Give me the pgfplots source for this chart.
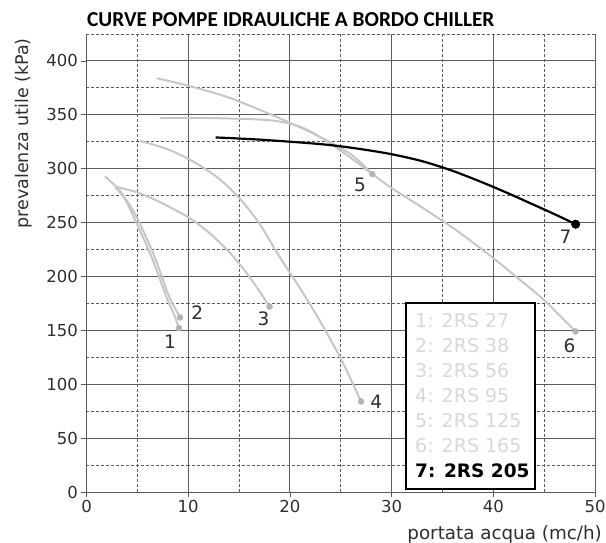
\documentclass[border=0pt]{standalone}
\usepackage{fontspec}
\setmainfont{DejaVu Sans}
\newfontfamily\titlefont{Carlito}
\usepackage{pgfplots}
\pgfplotsset{compat=1.18}
\usetikzlibrary{calc}
\definecolor{curvegray}{HTML}{C6C6C6}
\definecolor{dotgray}{HTML}{B4B4B4}
\definecolor{gridcol}{HTML}{5C5C5C}
\definecolor{leggray}{HTML}{D8D8D8}
\definecolor{txt}{HTML}{2E2E2E}
\begin{document}
\begin{tikzpicture}
\begin{axis}[
  scale only axis, width=508.5bp, height=458bp,
  xmin=0, xmax=50, ymin=0, ymax=425,
  xtick={0,10,...,50}, ytick={0,50,...,400},
  minor xtick={5,15,...,45}, minor ytick={25,75,...,425},
  grid=both,
  major grid style={gridcol, line width=0.9bp},
  minor grid style={gridcol, line width=0.9bp, dash pattern=on 3bp off 2bp},
  axis x line*=bottom, axis y line*=left,
  axis line style={gridcol, line width=1bp, -},
  tick align=outside, major tick length=5bp, minor tick length=0pt,
  tick style={gridcol, line width=0.8bp},
  ticklabel style={font=\fontsize{16.5bp}{18bp}\selectfont, text=txt},
  /pgf/number format/assume math mode=true,
  clip mode=individual,
]
% curves
\addplot[curvegray, line width=2bp, smooth] coordinates {(1.8,293) (3.4,278) (4.8,252) (6.4,218) (7.9,180) (8.6,165) (9.1,152)};
\addplot[curvegray, line width=2bp, smooth] coordinates {(2.8,283) (4,270) (5.2,250) (6.7,218) (8.1,182) (9.2,162)};
\addplot[curvegray, line width=2bp, smooth] coordinates {(3,283) (5,278) (7,270) (10,255) (12,241) (14,223) (16,200) (18,172)};
\addplot[curvegray, line width=2bp, smooth] coordinates {(5.2,326) (8,318) (10.6,306) (13,291) (15.1,272) (17,249) (19,218) (21,189) (23,158) (25.1,122) (27,84)};
\addplot[curvegray, line width=2bp, smooth] coordinates {(6.9,384) (10,377) (14,366) (18.2,350) (22,334) (25.9,314) (28.1,295)};
\addplot[curvegray, line width=2bp, smooth] coordinates {(7.2,347) (12,347) (18,345) (21,339) (23.2,328) (26,310) (29.7,284) (33,264) (36.5,242) (40,217) (42.6,197) (45,178) (48.1,149)};
\addplot[black, line width=2.2bp, smooth] coordinates {(12.7,329) (17,327) (22.8,323) (26,319.5) (29.7,314) (33,307) (36,298) (39,287) (41.5,277) (44.1,266) (46.2,257) (48.1,248.5)};
% end points
\addplot[only marks, mark=*, mark size=3bp, dotgray, mark options={draw=dotgray, fill=dotgray}] coordinates {(9.1,152) (9.2,162) (18,172) (27,84) (28.1,295) (48.1,149)};
\addplot[only marks, mark=*, mark size=4.3bp, black] coordinates {(48.1,248.5)};
% curve numbers
\node[txt, font=\fontsize{18.5bp}{20bp}\selectfont] at (axis cs:8.2,139) {1};
\node[txt, font=\fontsize{18.5bp}{20bp}\selectfont] at (axis cs:10.9,166) {2};
\node[txt, font=\fontsize{18.5bp}{20bp}\selectfont] at (axis cs:17.4,161) {3};
\node[txt, font=\fontsize{18.5bp}{20bp}\selectfont] at (axis cs:28.5,83.8) {4};
\node[txt, font=\fontsize{18.5bp}{20bp}\selectfont] at (axis cs:26.9,285) {5};
\node[txt, font=\fontsize{18.5bp}{20bp}\selectfont] at (axis cs:47.5,136) {6};
\node[txt, font=\fontsize{18.5bp}{20bp}\selectfont] at (axis cs:47.1,237) {7};
% legend box
\draw[black, line width=1.7bp, fill=white] (axis cs:31.4,2.8) rectangle (axis cs:44.1,175.4);
\node[leggray, anchor=base west, inner sep=0pt, font=\fontsize{19bp}{20bp}\selectfont] at (axis cs:32.3,153.1) {1: 2RS 27};
\node[leggray, anchor=base west, inner sep=0pt, font=\fontsize{19bp}{20bp}\selectfont] at (axis cs:32.3,129.7) {2: 2RS 38};
\node[leggray, anchor=base west, inner sep=0pt, font=\fontsize{19bp}{20bp}\selectfont] at (axis cs:32.3,106.3) {3: 2RS 56};
\node[leggray, anchor=base west, inner sep=0pt, font=\fontsize{19bp}{20bp}\selectfont] at (axis cs:32.3,83.0) {4: 2RS 95};
\node[leggray, anchor=base west, inner sep=0pt, font=\fontsize{19bp}{20bp}\selectfont] at (axis cs:32.3,59.6) {5: 2RS 125};
\node[leggray, anchor=base west, inner sep=0pt, font=\fontsize{19bp}{20bp}\selectfont] at (axis cs:32.3,36.2) {6: 2RS 165};
\node[black, anchor=base west, inner sep=0pt, font=\bfseries\fontsize{18.5bp}{20bp}\selectfont] at (axis cs:32.3,13.0) {7: 2RS 205};
% labels and title
\node[anchor=base west, inner sep=0pt, font=\titlefont\bfseries\fontsize{21.3bp}{24bp}\selectfont] at ($(rel axis cs:0,1)+(0.5bp,7bp)$) {CURVE POMPE IDRAULICHE A BORDO CHILLER};
\node[txt, rotate=90, anchor=north, inner sep=0pt, font=\fontsize{17.5bp}{20bp}\selectfont] at ($(rel axis cs:0,0.783)+(-71.5bp,0)$) {prevalenza utile (kPa)};
\node[txt, anchor=north east, inner sep=0pt, font=\fontsize{18.3bp}{20bp}\selectfont] at ($(rel axis cs:1,0)+(7bp,-33bp)$) {portata acqua (mc/h)};
\end{axis}
\pgfresetboundingbox
\path ($(current axis.south west)+(-86.5bp,-51bp)$) rectangle ($(current axis.north east)+(11bp,34bp)$);
\end{tikzpicture}
\end{document}
